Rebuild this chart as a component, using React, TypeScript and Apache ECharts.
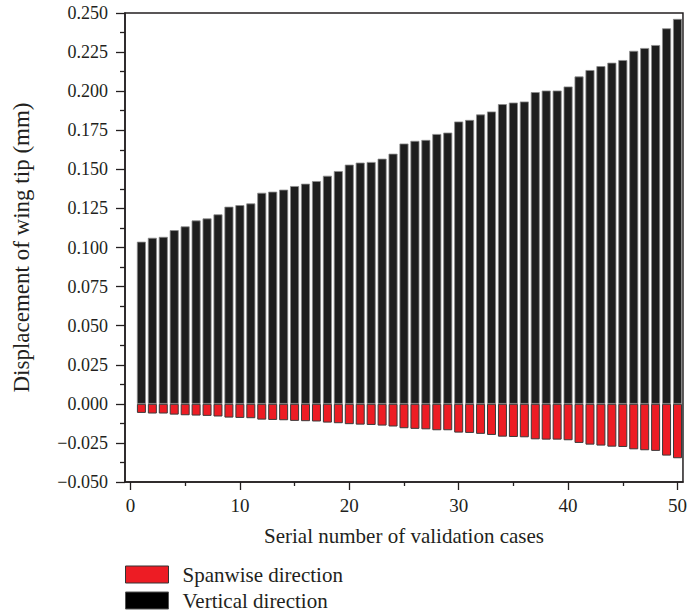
import React, { useEffect, useRef } from "react";
import * as echarts from "echarts";

const caseNumbers: number[] = Array.from({ length: 50 }, (_, i) => i + 1);

const verticalValues: number[] = [
  0.1037, 0.1062, 0.1068, 0.1111, 0.1135, 0.1173, 0.1186, 0.1212, 0.1261, 0.1271,
  0.1282, 0.135, 0.1357, 0.137, 0.1393, 0.1408, 0.1425, 0.1459, 0.1489, 0.153,
  0.1543, 0.1547, 0.1568, 0.16, 0.1665, 0.1682, 0.1688, 0.1726, 0.1735, 0.1806,
  0.1816, 0.1851, 0.187, 0.1917, 0.1927, 0.1934, 0.1994, 0.2004, 0.2004, 0.203,
  0.2094, 0.2135, 0.216, 0.2182, 0.2199, 0.2258, 0.2276, 0.2295, 0.2402, 0.2462,
];

const spanwiseValues: number[] = [
  -0.0058, -0.0062, -0.0062, -0.0069, -0.0073, -0.0075, -0.0077, -0.0081, -0.0088, -0.009,
  -0.0092, -0.0101, -0.0103, -0.0105, -0.0109, -0.0111, -0.0113, -0.012, -0.0124, -0.013,
  -0.0133, -0.0135, -0.0139, -0.0145, -0.0156, -0.016, -0.0163, -0.0169, -0.0169, -0.0184,
  -0.0186, -0.0192, -0.0199, -0.021, -0.0212, -0.0214, -0.0227, -0.0229, -0.0229, -0.0233,
  -0.025, -0.0261, -0.0267, -0.0274, -0.0276, -0.0291, -0.0297, -0.0301, -0.0331, -0.0348,
];

const xMajorTicks: number[] = [0, 10, 20, 30, 40, 50];
const xMinorTicks: number[] = [5, 15, 25, 35, 45];

const FONT = "'Liberation Serif', 'Times New Roman', serif";
const TEXT = "#231f20";

export default function App() {
  const ref = useRef<HTMLDivElement>(null);
  useEffect(() => {
    if (!ref.current) return;
    const chart = echarts.init(ref.current, undefined, { renderer: "svg" });
    chart.setOption({
      animation: false,
      textStyle: { fontFamily: FONT, color: TEXT },
      grid: {
        left: 125,
        right: 4,
        top: 13,
        bottom: 134,
        show: true,
        borderColor: "#231f20",
        borderWidth: 1.5,
        backgroundColor: "transparent",
      },
      legend: {
        orient: "vertical",
        left: 125,
        top: 564,
        padding: 0,
        itemWidth: 43,
        itemHeight: 17,
        itemGap: 5,
        icon: "rect",
        textStyle: { fontFamily: FONT, fontSize: 21, lineHeight: 21, color: TEXT, padding: [0, 0, 0, 9] },
        data: [
          { name: "Spanwise direction", itemStyle: { color: "#ed1c24", borderColor: "#333", borderWidth: 1 } },
          { name: "Vertical direction", itemStyle: { color: "#000000", borderColor: "#555", borderWidth: 1 } },
        ],
      },
      xAxis: [
        {
          type: "value",
          min: -0.5,
          max: 50.5,
          name: "Serial number of validation cases",
          nameLocation: "middle",
          nameGap: 43,
          nameTextStyle: { fontFamily: FONT, fontSize: 21, color: TEXT },
          axisLine: { show: true, onZero: false, lineStyle: { color: "#231f20", width: 1.5 } },
          axisTick: { show: true, length: 8, customValues: xMajorTicks, lineStyle: { color: "#231f20", width: 1.3 } },
          axisLabel: {
            customValues: xMajorTicks,
            fontFamily: FONT,
            fontSize: 19,
            color: TEXT,
            margin: 14,
          },
          splitLine: { show: false },
        },
        {
          type: "value",
          min: -0.5,
          max: 50.5,
          position: "bottom",
          axisLine: { show: false, onZero: false },
          axisTick: { show: true, length: 4, customValues: xMinorTicks, lineStyle: { color: "#231f20", width: 1.3 } },
          axisLabel: { show: false, customValues: xMinorTicks },
          splitLine: { show: false },
        },
      ],
      yAxis: {
        type: "value",
        min: -0.05,
        max: 0.25,
        interval: 0.025,
        name: "Displacement of wing tip (mm)",
        nameLocation: "middle",
        nameGap: 92,
        nameTextStyle: { fontFamily: FONT, fontSize: 23, color: TEXT },
        axisLine: { show: true, onZero: false, lineStyle: { color: "#231f20", width: 1.5 } },
        axisTick: { show: true, length: 9, lineStyle: { color: "#231f20", width: 1.3 } },
        minorTick: { show: true, splitNumber: 2, length: 5, lineStyle: { color: "#231f20", width: 1.3 } },
        axisLabel: {
          fontFamily: FONT,
          fontSize: 18,
          color: TEXT,
          margin: 17,
          formatter: (v: number) => v.toFixed(3).replace("-", "\u2212"),
        },
        splitLine: { show: false },
      },
      series: [
        {
          name: "Vertical direction",
          type: "bar",
          stack: "total",
          barWidth: 9,
          xAxisIndex: 0,
          itemStyle: { color: "#1e1e1e", borderColor: "#8c8c8c", borderWidth: 0.8 },
          data: caseNumbers.map((c, i) => [c, verticalValues[i]]),
        },
        {
          name: "Spanwise direction",
          type: "bar",
          stack: "total",
          barWidth: 9,
          xAxisIndex: 0,
          itemStyle: { color: "#ed1c24", borderColor: "#3a3a3a", borderWidth: 1 },
          data: caseNumbers.map((c, i) => [c, spanwiseValues[i]]),
        },
      ],
    });
    return () => chart.dispose();
  }, []);
  return <div ref={ref} style={{ width: 690, height: 616, position: "absolute", left: 0, top: 0 }} />;
}
